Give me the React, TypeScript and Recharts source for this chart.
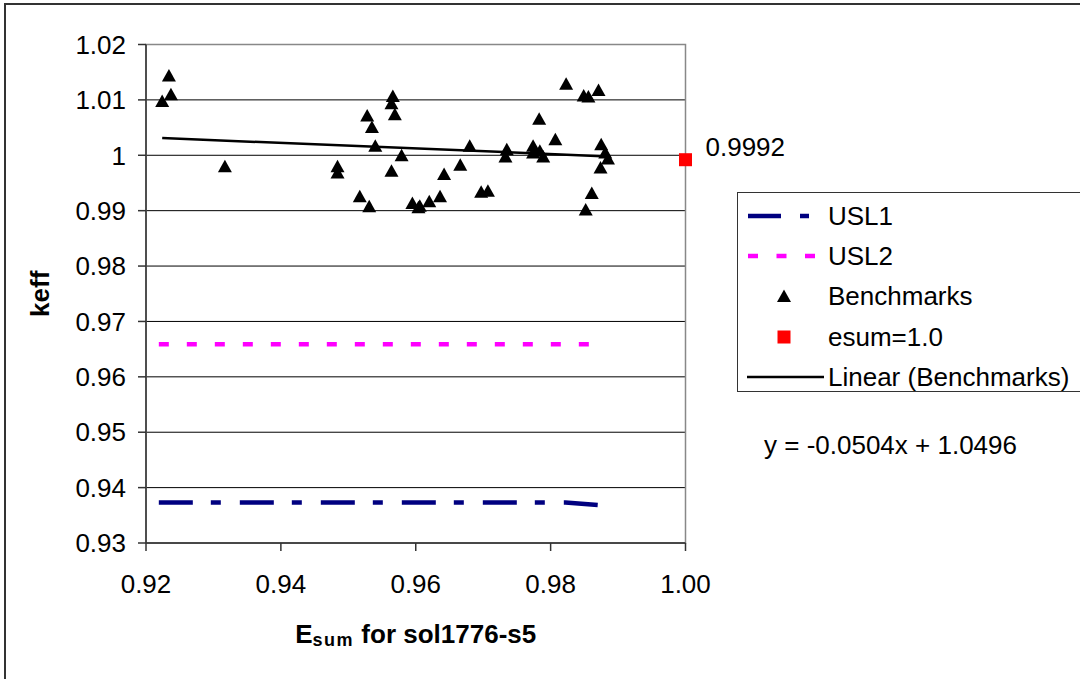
import {
  ComposedChart,
  Line,
  Scatter,
  XAxis,
  YAxis,
  CartesianGrid,
  ReferenceArea,
  Legend,
  Label,
} from "recharts";

const FONT = '"Liberation Sans", Arial, Helvetica, sans-serif';

// axis ticks
const X_TICKS = [0.92, 0.94, 0.96, 0.98, 1.0];
const Y_TICKS = [0.93, 0.94, 0.95, 0.96, 0.97, 0.98, 0.99, 1, 1.01, 1.02];

// benchmark cases: Esum and keff
const BENCH_ESUM = [
  0.9224, 0.9234, 0.9237, 0.9317, 0.9484, 0.9484, 0.9517, 0.9528, 0.9531,
  0.9535, 0.954, 0.9564, 0.9564, 0.9566, 0.9569, 0.9579, 0.9595, 0.9604,
  0.9606, 0.962, 0.9636, 0.9642, 0.9666, 0.968, 0.9697, 0.9707, 0.9733,
  0.9735, 0.9774, 0.9774, 0.9783, 0.9784, 0.9789, 0.9807, 0.9823, 0.9849,
  0.9852, 0.9856, 0.9861, 0.9871, 0.9874, 0.9875, 0.9881, 0.9885,
];
const BENCH_KEFF = [
  1.0098, 1.0144, 1.011, 0.998, 0.998, 0.9969, 0.9926, 1.0072, 0.9908,
  1.0051, 1.0017, 1.0094, 0.9972, 1.0107, 1.0074, 1.0, 0.9914, 0.9906,
  0.9909, 0.9917, 0.9926, 0.9966, 0.9983, 1.0017, 0.9934, 0.9936, 0.9998,
  1.0011, 1.0017, 1.0005, 1.0066, 1.0008, 0.9998, 1.0029, 1.0129, 1.0108,
  0.9902, 1.0106, 0.9932, 1.0118, 0.9978, 1.002, 1.0005, 0.9994,
];

// limit lines
const USL1_ESUM = [0.9219, 0.9822, 0.9874];
const USL1_KEFF = [0.9373, 0.9373, 0.9368];
const USL2_ESUM = [0.9219, 0.9874];
const USL2_KEFF = [0.9659, 0.9659];

// linear fit of the benchmarks (end points)
const TREND_ESUM = [0.9224, 0.9885];
const TREND_KEFF = [1.0031, 0.9998];
const TREND_EQUATION = "y = -0.0504x + 1.0496";

// application point
const ESUM_ONE_X = [1.0];
const ESUM_ONE_Y = [0.9992];

const LEGEND_ORDER = ["USL1", "USL2", "Benchmarks", "esum=1.0", "Linear (Benchmarks)"];

const toPoints = (xs: number[], ys: number[]) => xs.map((x, i) => ({ x, y: ys[i] }));

const benchmarks = toPoints(BENCH_ESUM, BENCH_KEFF);
const usl1 = toPoints(USL1_ESUM, USL1_KEFF);
const usl2 = toPoints(USL2_ESUM, USL2_KEFF);
const trend = toPoints(TREND_ESUM, TREND_KEFF);
const esumOne = toPoints(ESUM_ONE_X, ESUM_ONE_Y);

const Triangle = ({ cx, cy }: any) => (
  <polygon
    points={`${cx},${cy - 6.5} ${cx + 7},${cy + 6} ${cx - 7},${cy + 6}`}
    fill="#000"
  />
);

const RedSquare = ({ cx, cy, payload }: any) => (
  <g>
    <rect x={cx - 6.5} y={cy - 6.5} width={13} height={13} fill="#ff0000" />
    <text x={cx + 20} y={cy - 4} fontSize={26} fontFamily={FONT} fill="#000">
      {payload.y.toFixed(4)}
    </text>
  </g>
);

function LegendSymbol({ name }: { name: string }) {
  if (name === "USL1")
    return <line x1={10} x2={72} y1={20} y2={20} stroke="#000080" strokeWidth={4.5} strokeDasharray="33 19 9" />;
  if (name === "USL2")
    return <line x1={10} x2={77} y1={20} y2={20} stroke="#ff00ff" strokeWidth={4.5} strokeDasharray="10 18.5" />;
  if (name === "Benchmarks")
    return <polygon points="46,13.5 53,26 39,26" fill="#000" />;
  if (name === "esum=1.0")
    return <rect x={39.5} y={13.5} width={13} height={13} fill="#ff0000" />;
  return <line x1={9} x2={86} y1={20} y2={20} stroke="#000" strokeWidth={2.5} />;
}

const LegendBox = ({ payload }: any) => {
  const names: string[] = (payload || []).map((p: any) => p.value);
  const rows = LEGEND_ORDER.filter((n) => names.length === 0 || names.includes(n));
  return (
    <div
      style={{
        position: "relative",
        height: 200,
        border: "1.5px solid #333",
        background: "#fff",
        boxSizing: "border-box",
        fontFamily: FONT,
        fontSize: 26,
        color: "#000",
      }}
    >
      {rows.map((name, i) => (
        <div
          key={name}
          style={{ position: "absolute", left: 0, top: 3 + i * 40.2, height: 40, width: 400 }}
        >
          <svg width={90} height={40} style={{ position: "absolute", left: 0, top: 0 }}>
            <LegendSymbol name={name} />
          </svg>
          <span style={{ position: "absolute", left: 90, top: 5, lineHeight: "30px", whiteSpace: "nowrap" }}>
            {name}
          </span>
        </div>
      ))}
    </div>
  );
};

const YTitle = ({ viewBox }: any) => {
  const cx = viewBox.x + 14;
  const cy = viewBox.y + viewBox.height / 2;
  return (
    <text
      x={cx}
      y={cy}
      transform={`rotate(-90 ${cx} ${cy})`}
      textAnchor="middle"
      dominantBaseline="central"
      fontSize={26}
      fontWeight="bold"
      fontFamily={FONT}
      fill="#000"
    >
      keff
    </text>
  );
};

const XTitle = ({ viewBox }: any) => (
  <text
    x={viewBox.x + viewBox.width / 2}
    y={viewBox.y + 100}
    textAnchor="middle"
    fontSize={26}
    fontWeight="bold"
    fontFamily={FONT}
    fill="#000"
  >
    E
    <tspan fontSize={18} dy={3} letterSpacing={1.5}>
      sum
    </tspan>
    <tspan dy={-3}> for sol1776-s5</tspan>
  </text>
);

export default function App() {
  const tickStyle = { fill: "#000", fontSize: 26, fontFamily: FONT };
  return (
    <div
      style={{
        position: "absolute",
        left: 0,
        top: 0,
        width: 1080,
        height: 679,
        overflow: "hidden",
        background: "#fff",
        fontFamily: FONT,
      }}
    >
      <div
        style={{
          position: "absolute",
          left: 4,
          top: 3,
          width: 1200,
          height: 800,
          borderTop: "2px solid #333",
          borderLeft: "2px solid #333",
        }}
      />
      <ComposedChart
        width={1080}
        height={679}
        margin={{ top: 44.5, right: 394.5, bottom: 76, left: 26 }}
      >
        <CartesianGrid vertical={false} stroke="#000" strokeWidth={1} />
        <ReferenceArea
          x1={0.92}
          x2={1.0}
          y1={0.93}
          y2={1.02}
          fill="none"
          stroke="#888"
          strokeWidth={1.5}
          ifOverflow="visible"
        />
        <XAxis
          type="number"
          dataKey="x"
          domain={[0.92, 1.0]}
          ticks={X_TICKS}
          interval={0}
          tickFormatter={(v: number) => v.toFixed(2)}
          tick={tickStyle}
          tickSize={8}
          tickMargin={24}
          height={60}
          axisLine={{ stroke: "#333", strokeWidth: 1.5 }}
          tickLine={{ stroke: "#333", strokeWidth: 1.5 }}
        >
          <Label content={XTitle} />
        </XAxis>
        <YAxis
          type="number"
          dataKey="y"
          domain={[0.93, 1.02]}
          ticks={Y_TICKS}
          interval={0}
          tickFormatter={(v: number) => String(v)}
          tick={tickStyle}
          tickSize={8}
          tickMargin={12}
          width={120}
          axisLine={{ stroke: "#333", strokeWidth: 1.5 }}
          tickLine={{ stroke: "#333", strokeWidth: 1.5 }}
        >
          <Label content={YTitle} />
        </YAxis>
        <Line
          name="USL1"
          data={usl1}
          dataKey="y"
          type="linear"
          stroke="#000080"
          strokeWidth={4.5}
          strokeDasharray="34 18 10 19"
          dot={false}
          activeDot={false}
          isAnimationActive={false}
        />
        <Line
          name="USL2"
          data={usl2}
          dataKey="y"
          type="linear"
          stroke="#ff00ff"
          strokeWidth={4.5}
          strokeDasharray="10 18"
          dot={false}
          activeDot={false}
          isAnimationActive={false}
        />
        <Scatter
          name="Benchmarks"
          data={benchmarks}
          dataKey="y"
          fill="#000"
          shape={Triangle}
          isAnimationActive={false}
        />
        <Scatter
          name="esum=1.0"
          data={esumOne}
          dataKey="y"
          fill="#ff0000"
          shape={RedSquare}
          isAnimationActive={false}
        />
        <Line
          name="Linear (Benchmarks)"
          data={trend}
          dataKey="y"
          type="linear"
          stroke="#000"
          strokeWidth={2.5}
          dot={false}
          activeDot={false}
          isAnimationActive={false}
        />
        <Legend
          layout="horizontal"
          verticalAlign="middle"
          align="center"
          wrapperStyle={{ left: 737, top: 192, width: 420 }}
          content={LegendBox}
        />
      </ComposedChart>
      <div
        style={{
          position: "absolute",
          left: 764,
          top: 432,
          fontSize: 26,
          lineHeight: "26px",
          whiteSpace: "nowrap",
          color: "#000",
        }}
      >
        {TREND_EQUATION}
      </div>
    </div>
  );
}
